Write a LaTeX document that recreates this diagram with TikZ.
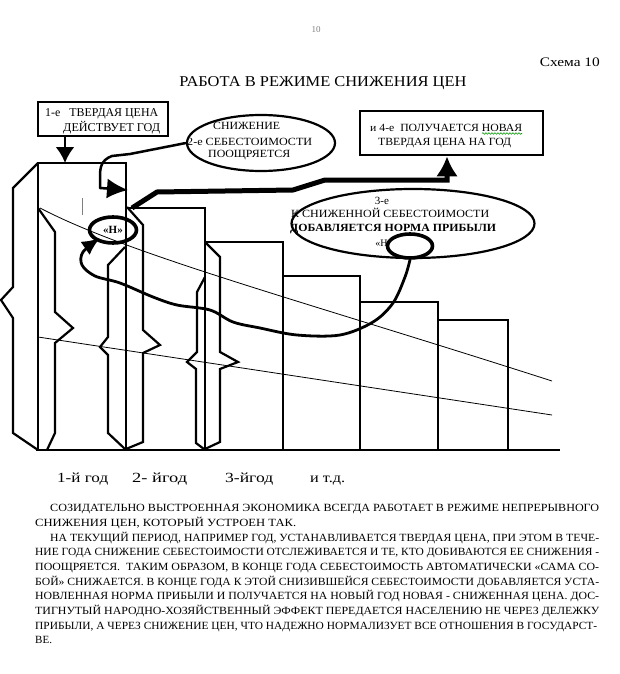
\documentclass[tikz,border=0pt]{standalone}
\usepackage{fontspec}
\setmainfont{Liberation Serif}
\usepackage{graphicx}
\usetikzlibrary{arrows.meta,shapes.geometric,decorations.pathmorphing}
\newcommand\fw[2]{\resizebox{#1pt}{\height}{#2}}
\begin{document}
\begin{tikzpicture}[x=1pt,y=-1pt,
  col/.style={line width=2.4pt, line join=miter},
  br/.style={line width=2.2pt, line join=miter},
  thinline/.style={line width=0.8pt},
  txt/.style={inner sep=0pt, anchor=base west},
  boxst/.style={draw, line width=2.8pt, inner sep=0pt},
  ell/.style={draw, ellipse, line width=2.2pt, inner sep=0pt},
  oval/.style={draw, ellipse, line width=3.6pt, inner sep=0pt},
  f9/.style={font=\fontsize{9}{9}\selectfont},
  f11/.style={font=\fontsize{11}{11}\selectfont},
  f12/.style={font=\fontsize{12}{12}\selectfont},
  f14/.style={font=\fontsize{14}{14}\selectfont},
  pf/.style={font=\fontsize{11}{11}\selectfont},
]
\fill[white] (0,0) rectangle (620,674);
\useasboundingbox (0,0) rectangle (620,674);

% header
\node[inner sep=0pt, anchor=base, text=gray, f9] (pg) at (316,33) {10};
\node[inner sep=0pt, anchor=base east, font=\fontsize{13}{13}\selectfont] (sch) at (600,67) {\fw{60}{Схема 10}};
\node[inner sep=0pt, anchor=base, font=\fontsize{15}{15}\selectfont] (ttl) at (323,87) {\fw{287}{РАБОТА В РЕЖИМЕ СНИЖЕНИЯ ЦЕН}};

% columns
\draw[col] (38,450) -- (38,163) -- (126,163) -- (126,450);
\draw[col] (126,208) -- (205,208) -- (205,450);
\draw[col] (205,242) -- (283,242) -- (283,450);
\draw[col] (283,276) -- (360,276) -- (360,450);
\draw[col] (360,302) -- (438,302) -- (438,450);
\draw[col] (438,320) -- (508,320) -- (508,450);
\draw[col] (36,450) -- (560,450);

% braces
\draw[br] (38,163) -- (13,188) -- (13,287) -- (1,300) -- (13,318) -- (13,433) -- (38,450);
\draw[br] (38,208) -- (55,232) -- (55,312) -- (73,328) -- (55,343) -- (55,433) -- (47,450);
\draw[br] (125,247) -- (108,265) -- (108,337) -- (100,347) -- (108,355) -- (108,433) -- (125,449);
\draw[br] (127,207) -- (143,225) -- (143,330) -- (160,345) -- (143,353) -- (143,442) -- (126,449);
\draw[br] (205,277) -- (197,292) -- (197,352) -- (187,362) -- (196,369) -- (196,443) -- (204,449);
\draw[br] (205,242) -- (220,257) -- (220,352) -- (238,362) -- (220,369) -- (220,442) -- (205,449);

% thin lines
\draw[thinline] (40,208) .. controls (130,255) and (300,300) .. (552,381);
\draw[thinline] (38,337) -- (552,415);

% gray tick
\draw[gray, line width=1pt] (82,198) -- (82,215);

% box 1
\node[boxst, minimum width=130pt, minimum height=34pt] (b1) at (103,119) {};
\node[txt, f12] (b1a) at (45,116.5) {\fw{113}{1-е\ \ \ ТВЕРДАЯ ЦЕНА}};
\node[txt, f12] (b1b) at (63,131.5) {\fw{97}{ДЕЙСТВУЕТ ГОД}};
\coordinate (c1) at (65,163);
\draw[line width=2.5pt, -{Latex[length=16pt,width=19pt]}] (b1.south -| c1) -- (c1);

% ellipse 2
\node[ell, minimum width=148pt, minimum height=56pt] (e2) at (261,143) {};
\node[txt, f11] (e2a) at (213,129.6) {\fw{67}{СНИЖЕНИЕ}};
\node[txt, f11] (e2b) at (187,145.6) {\fw{125}{2-е СЕБЕСТОИМОСТИ}};
\node[txt, f11] (e2c) at (208,157.6) {\fw{82}{ПООЩРЯЕТСЯ}};
\coordinate (c2) at (128,190);
\draw[line width=2.5pt, line join=round, -{Latex[length=21pt,width=20pt]}] (e2.west) -- (130,154) -- (112,156) .. controls (101,160) and (100,168) .. (100,176) -- (100,188) -- (c2);

% box 4
\node[boxst, minimum width=183pt, minimum height=44pt] (b4) at (451.5,133) {};
\node[txt, f11] (b4a) at (370,131.6) {\fw{152}{и 4-е\ \ ПОЛУЧАЕТСЯ НОВАЯ}};
\node[txt, f11] (b4b) at (378,145.6) {\fw{133}{ТВЕРДАЯ ЦЕНА НА ГОД}};
\draw[green!60!black, line width=0.6pt, decorate, decoration={snake, amplitude=0.8pt, segment length=3pt}] (482,133.5) -- (522,133.5);

% big arrow
\coordinate (c3) at (132,208);
\coordinate (c4) at (447,180);
\draw[line width=5pt, line join=miter, -{Latex[length=20pt,width=22pt]}] (c3) -- (157,192) -- (293,190) -- (325,180) -- (c4) -- (b4.south -| c4);

% ellipse 3
\node[ell, minimum width=243pt, minimum height=69pt] (e3) at (413,223.5) {};
\node[inner sep=0pt, anchor=base, f11] (e3a) at (382,204.6) {3-е};
\node[txt, f11] (e3b) at (291,217.6) {\fw{198}{К СНИЖЕННОЙ СЕБЕСТОИМОСТИ}};
\node[txt, f11] (e3c) at (290,231.6) {\fw{206}{\bfseries ДОБАВЛЯЕТСЯ НОРМА ПРИБЫЛИ}};
\node[inner sep=0pt, anchor=base, font=\fontsize{10}{10}\selectfont] (e3d) at (384,246.3) {«Н»};
\node[oval, fill=white, minimum width=45pt, minimum height=24pt] (o3) at (410,246) {};

% oval 1
\node[oval, minimum width=47pt, minimum height=26pt] (o1) at (113,230) {};
\node[inner sep=0pt, anchor=base, f11] (o1t) at (113,233.6) {\bfseries «Н»};

% wavy curve
\draw[line width=2.8pt, -{Latex[length=18pt,width=16pt]}] plot[smooth, tension=0.55] coordinates {(o3.south) (405,277) (393,303) (373,322) (340,335) (297,335) (260,328) (233,322) (210,310) (177,305) (153,297) (120,283) (95,276) (82,265) (83,252) (100,238)};

% year labels
\node[txt, f14] (y1) at (57,482.6) {\fw{51}{1-й год}};
\node[txt, f14] (y2) at (132,482.6) {\fw{55}{2- йгод}};
\node[txt, f14] (y3) at (225,482.6) {\fw{48}{3-йгод}};
\node[txt, f14] (y4) at (310,482.6) {\fw{35}{и т.д.}};

% paragraph
\node[txt, pf] (p1) at (50,511.7) {\fw{549}{СОЗИДАТЕЛЬНО ВЫСТРОЕННАЯ ЭКОНОМИКА ВСЕГДА РАБОТАЕТ В РЕЖИМЕ НЕПРЕРЫВНОГО}};
\node[txt, pf] (p2) at (35,526.4) {\fw{261}{СНИЖЕНИЯ ЦЕН, КОТОРЫЙ УСТРОЕН ТАК.}};
\node[txt, pf] (p3) at (50,541.0) {\fw{549}{НА ТЕКУЩИЙ ПЕРИОД, НАПРИМЕР ГОД, УСТАНАВЛИВАЕТСЯ ТВЕРДАЯ ЦЕНА, ПРИ ЭТОМ В ТЕЧЕ-}};
\node[txt, pf] (p4) at (35,555.7) {\fw{564}{НИЕ ГОДА СНИЖЕНИЕ СЕБЕСТОИМОСТИ ОТСЛЕЖИВАЕТСЯ И ТЕ, КТО ДОБИВАЮТСЯ ЕЕ СНИЖЕНИЯ -}};
\node[txt, pf] (p5) at (35,570.4) {\fw{564}{ПООЩРЯЕТСЯ.\ \ ТАКИМ ОБРАЗОМ, В КОНЦЕ ГОДА СЕБЕСТОИМОСТЬ АВТОМАТИЧЕСКИ «САМА СО-}};
\node[txt, pf] (p6) at (35,585.0) {\fw{564}{БОЙ» СНИЖАЕТСЯ. В КОНЦЕ ГОДА К ЭТОЙ СНИЗИВШЕЙСЯ СЕБЕСТОИМОСТИ ДОБАВЛЯЕТСЯ УСТА-}};
\node[txt, pf] (p7) at (35,599.7) {\fw{564}{НОВЛЕННАЯ НОРМА ПРИБЫЛИ И ПОЛУЧАЕТСЯ НА НОВЫЙ ГОД НОВАЯ - СНИЖЕННАЯ ЦЕНА. ДОС-}};
\node[txt, pf] (p8) at (35,614.4) {\fw{564}{ТИГНУТЫЙ НАРОДНО-ХОЗЯЙСТВЕННЫЙ ЭФФЕКТ ПЕРЕДАЕТСЯ НАСЕЛЕНИЮ НЕ ЧЕРЕЗ ДЕЛЕЖКУ}};
\node[txt, pf] (p9) at (35,629.1) {\fw{562}{ПРИБЫЛИ, А ЧЕРЕЗ СНИЖЕНИЕ ЦЕН, ЧТО НАДЕЖНО НОРМАЛИЗУЕТ ВСЕ ОТНОШЕНИЯ В ГОСУДАРСТ-}};
\node[txt, pf] (p10) at (35,643.7) {ВЕ.};
\end{tikzpicture}
\end{document}
